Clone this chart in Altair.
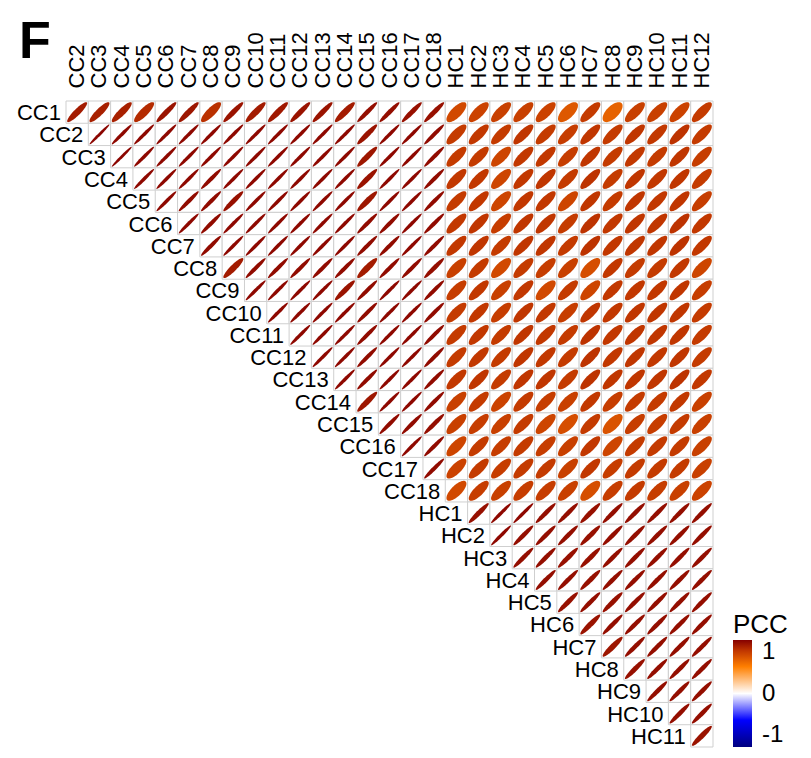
import altair as alt
import pandas as pd
import numpy as np

row_labels = ["CC1", "CC2", "CC3", "CC4", "CC5", "CC6", "CC7", "CC8", "CC9", "CC10",
              "CC11", "CC12", "CC13", "CC14", "CC15", "CC16", "CC17", "CC18",
              "HC1", "HC2", "HC3", "HC4", "HC5", "HC6", "HC7", "HC8", "HC9", "HC10", "HC11"]
col_labels = ["CC2", "CC3", "CC4", "CC5", "CC6", "CC7", "CC8", "CC9", "CC10",
              "CC11", "CC12", "CC13", "CC14", "CC15", "CC16", "CC17", "CC18",
              "HC1", "HC2", "HC3", "HC4", "HC5", "HC6", "HC7", "HC8", "HC9", "HC10", "HC11", "HC12"]

# Upper-triangle PCC values, row by row (row i starts at column i)
pcc_rows = [
    [0.90, 0.88, 0.88, 0.84, 0.93, 0.92, 0.82, 0.93, 0.90, 0.91, 0.93, 0.93, 0.90, 0.95, 0.95, 0.94, 0.94,
     0.72, 0.75, 0.76, 0.76, 0.75, 0.66, 0.78, 0.62, 0.76, 0.76, 0.75, 0.78],
    [0.98, 0.97, 0.97, 0.97, 0.97, 0.97, 0.97, 0.97, 0.97, 0.97, 0.97, 0.97, 0.93, 0.97, 0.97, 0.96,
     0.78, 0.79, 0.78, 0.80, 0.78, 0.77, 0.80, 0.78, 0.80, 0.79, 0.81, 0.78],
    [0.98, 0.97, 0.97, 0.97, 0.97, 0.97, 0.97, 0.97, 0.97, 0.97, 0.97, 0.92, 0.97, 0.97, 0.96,
     0.78, 0.78, 0.74, 0.79, 0.79, 0.77, 0.80, 0.78, 0.79, 0.78, 0.80, 0.77],
    [0.97, 0.97, 0.97, 0.96, 0.97, 0.97, 0.97, 0.97, 0.97, 0.97, 0.93, 0.97, 0.97, 0.96,
     0.79, 0.79, 0.74, 0.79, 0.80, 0.78, 0.81, 0.78, 0.80, 0.79, 0.80, 0.78],
    [0.97, 0.96, 0.96, 0.94, 0.97, 0.97, 0.97, 0.97, 0.97, 0.92, 0.97, 0.97, 0.96,
     0.78, 0.79, 0.74, 0.79, 0.79, 0.74, 0.80, 0.78, 0.80, 0.79, 0.80, 0.77],
    [0.97, 0.96, 0.97, 0.97, 0.97, 0.97, 0.97, 0.97, 0.96, 0.96, 0.97, 0.96,
     0.79, 0.80, 0.77, 0.80, 0.80, 0.78, 0.81, 0.79, 0.80, 0.80, 0.81, 0.79],
    [0.96, 0.97, 0.97, 0.97, 0.97, 0.97, 0.97, 0.96, 0.96, 0.97, 0.96,
     0.79, 0.80, 0.78, 0.80, 0.80, 0.78, 0.81, 0.79, 0.80, 0.80, 0.81, 0.79],
    [0.90, 0.96, 0.96, 0.96, 0.96, 0.96, 0.90, 0.96, 0.96, 0.95,
     0.76, 0.78, 0.72, 0.78, 0.77, 0.76, 0.70, 0.79, 0.78, 0.78, 0.79, 0.74],
    [0.97, 0.97, 0.97, 0.97, 0.93, 0.96, 0.97, 0.97, 0.96,
     0.77, 0.79, 0.76, 0.79, 0.72, 0.78, 0.74, 0.79, 0.79, 0.79, 0.80, 0.77],
    [0.97, 0.97, 0.97, 0.97, 0.96, 0.97, 0.97, 0.96,
     0.78, 0.79, 0.77, 0.80, 0.79, 0.77, 0.80, 0.79, 0.80, 0.80, 0.80, 0.78],
    [0.97, 0.97, 0.97, 0.96, 0.97, 0.97, 0.96,
     0.78, 0.79, 0.78, 0.80, 0.79, 0.78, 0.81, 0.79, 0.80, 0.80, 0.80, 0.78],
    [0.97, 0.97, 0.96, 0.97, 0.97, 0.96,
     0.78, 0.79, 0.78, 0.80, 0.79, 0.78, 0.81, 0.79, 0.80, 0.79, 0.80, 0.78],
    [0.97, 0.96, 0.97, 0.97, 0.96,
     0.79, 0.80, 0.78, 0.80, 0.80, 0.78, 0.81, 0.80, 0.80, 0.80, 0.81, 0.79],
    [0.92, 0.97, 0.97, 0.96,
     0.76, 0.78, 0.75, 0.78, 0.77, 0.76, 0.79, 0.77, 0.78, 0.78, 0.79, 0.76],
    [0.96, 0.96, 0.95,
     0.76, 0.77, 0.76, 0.78, 0.74, 0.70, 0.78, 0.68, 0.77, 0.77, 0.78, 0.76],
    [0.97, 0.96,
     0.74, 0.78, 0.77, 0.78, 0.77, 0.76, 0.79, 0.74, 0.78, 0.78, 0.78, 0.76],
    [0.96,
     0.75, 0.78, 0.77, 0.78, 0.78, 0.76, 0.79, 0.77, 0.78, 0.78, 0.78, 0.76],
    [0.72, 0.77, 0.76, 0.77, 0.77, 0.76, 0.70, 0.77, 0.78, 0.77, 0.76, 0.75],
    [0.94, 0.97, 0.97, 0.95, 0.95, 0.94, 0.95, 0.95, 0.95, 0.95, 0.95],
    [0.97, 0.95, 0.95, 0.95, 0.94, 0.95, 0.95, 0.95, 0.95, 0.95],
    [0.95, 0.95, 0.94, 0.94, 0.95, 0.95, 0.95, 0.95, 0.95],
    [0.95, 0.95, 0.94, 0.95, 0.95, 0.95, 0.95, 0.95],
    [0.94, 0.95, 0.94, 0.95, 0.95, 0.95, 0.95],
    [0.93, 0.95, 0.95, 0.95, 0.95, 0.95],
    [0.92, 0.95, 0.95, 0.95, 0.95],
    [0.94, 0.95, 0.95, 0.95],
    [0.95, 0.95, 0.95],
    [0.95, 0.95],
    [0.93],
]

color_domain = [-1, -0.5, 0, 0.5, 0.8, 1]
color_range = ["#00007F", "#0000FF", "#FFFFFF", "#FF7F00", "#C03600", "#850000"]
legend_values = [-1, 0, 1]


def ellipse_path(r, n=64):
    # corrplot-style ellipse glyph in the unit square [-1, 1]
    a = np.arccos(r) / 2.0
    t = np.linspace(0, 2 * np.pi, n, endpoint=False)
    xs = np.cos(t + a)
    ys = -np.cos(t - a)
    pts = [f"{x:.3f},{y:.3f}" for x, y in zip(xs, ys)]
    return "M" + "L".join(pts) + "Z"


records = []
for i, rl in enumerate(row_labels):
    for k, v in enumerate(pcc_rows[i]):
        records.append({"row": rl, "col": col_labels[i + k], "r": v, "path": ellipse_path(v)})
cells = pd.DataFrame(records)

row_lab_df = pd.DataFrame({"row": row_labels, "col": col_labels})

W, H = 647, 646
cell = W / len(col_labels)
FONT = "Liberation Sans"
FS = 22

xs = alt.Scale(domain=col_labels, paddingInner=0, paddingOuter=0)
ys = alt.Scale(domain=row_labels, paddingInner=0, paddingOuter=0)

grid = alt.Chart(cells).mark_rect(fill="white", stroke="#CFCFCF", strokeWidth=1).encode(
    x=alt.X("col:N", scale=xs, sort=col_labels, title=None,
            axis=alt.Axis(orient="top", labelAngle=-90, labelAlign="left", labelBaseline="middle",
                          ticks=False, tickSize=0, domain=False, labelPadding=13,
                          labelFontSize=FS, labelColor="black", labelFont=FONT)),
    y=alt.Y("row:N", scale=ys, sort=row_labels, axis=None),
)

ellipses = alt.Chart(cells).mark_point(filled=True, opacity=1, strokeWidth=0).encode(
    x=alt.X("col:N", scale=xs, sort=col_labels),
    y=alt.Y("row:N", scale=ys, sort=row_labels),
    shape=alt.Shape("path:N", scale=None),
    size=alt.value(400),
    color=alt.Color("r:Q", scale=alt.Scale(domain=color_domain, range=color_range, interpolate="rgb"),
                    legend=alt.Legend(title="PCC", orient="none", legendX=667, legendY=511,
                                      values=legend_values, gradientLength=107, gradientThickness=19,
                                      labelExpr="toString(datum.value)",
                                      labelFontSize=24, titleFontSize=26, titleFontWeight="normal",
                                      labelFont=FONT, titleFont=FONT, labelColor="black", titleColor="black",
                                      labelOffset=10, titlePadding=2, gradientStrokeWidth=0,
                                      direction="vertical")),
)

row_text = alt.Chart(row_lab_df).mark_text(align="right", baseline="middle", dx=-(cell / 2) - 5, dy=1,
                                           fontSize=FS, font=FONT, color="black").encode(
    x=alt.X("col:N", scale=xs, sort=col_labels),
    y=alt.Y("row:N", scale=ys, sort=row_labels),
    text="row:N",
)

panel = alt.Chart(pd.DataFrame({"t": ["F"]})).mark_text(
    align="left", baseline="alphabetic", fontSize=52, fontWeight="bold", font=FONT, color="black"
).encode(x=alt.value(-47), y=alt.value(-43), text="t:N")

chart = alt.layer(grid, ellipses, row_text, panel).properties(
    width=W, height=H,
    autosize=alt.AutoSizeParams(type="none"),
    padding={"left": 58, "top": 93, "right": 90, "bottom": 5},
).configure(
    font=FONT,
).configure_view(
    stroke=None,
).configure_legend(
    labelFontSize=24, titleFontSize=26, titleFontWeight="normal",
    labelFont=FONT, titleFont=FONT, labelColor="black", titleColor="black",
)

chart.save("out.html", embed_options={"renderer": "svg", "actions": False})
